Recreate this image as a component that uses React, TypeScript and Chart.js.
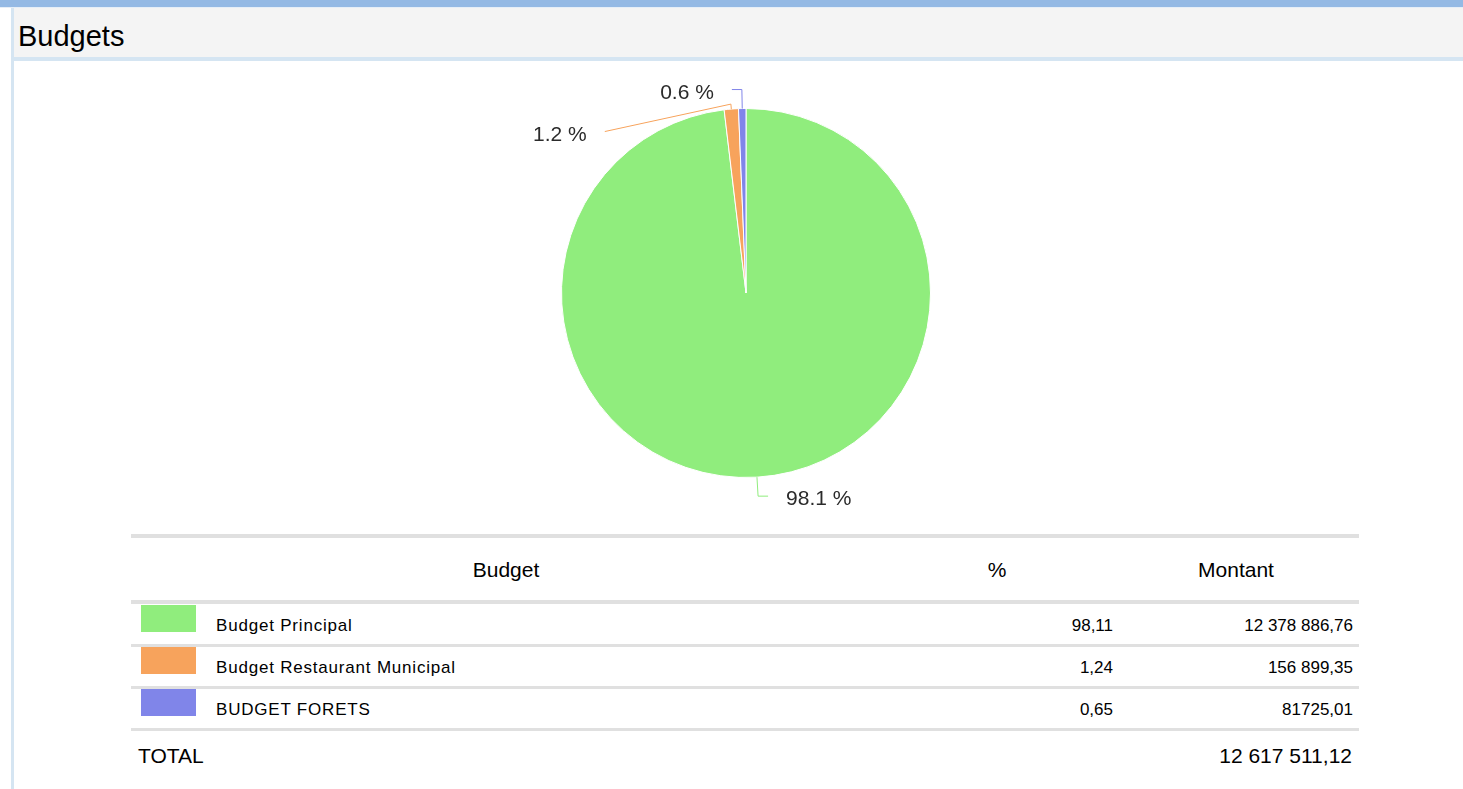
import React, { useEffect, useRef } from "react";
import { Chart, registerables } from "chart.js";

Chart.register(...registerables);

const categories = ["Budget Principal", "Budget Restaurant Municipal", "BUDGET FORETS"];
const amounts = [12378886.76, 156899.35, 81725.01];
const amountLabels = ["12 378 886,76", "156 899,35", "81725,01"];
const percentLabels = ["98,11", "1,24", "0,65"];
const totalLabel = "12 617 511,12";
const colors = ["#90ed7d", "#f7a35c", "#8085e9"];

const FONT = "'Liberation Sans', Arial, Helvetica, sans-serif";

const pieLabelPlugin = {
  id: "pieLabels",
  afterDatasetsDraw(chart: any) {
    const meta = chart.getDatasetMeta(0);
    const ctx = chart.ctx as CanvasRenderingContext2D;
    const data = chart.data.datasets[0].data as number[];
    const total = data.reduce((a, b) => a + b, 0);
    const BREAK = 19;
    const GAP = 42;
    const items = meta.data.map((arc: any, i: number) => {
      const { x, y, startAngle, endAngle, outerRadius } = arc;
      const a = (startAngle + endAngle) / 2;
      const left = Math.cos(a) < 0;
      const ny = y + (outerRadius + BREAK) * Math.sin(a);
      return { i, a, left, cx: x, cy: y, r: outerRadius, ny, ly: ny, shifted: false };
    });
    [true, false].forEach((side) => {
      const g = items.filter((it: any) => it.left === side).sort((p: any, q: any) => p.ny - q.ny);
      for (let k = 1; k < g.length; k++) {
        if (g[k].ly < g[k - 1].ly + GAP) {
          g[k].ly = g[k - 1].ly + GAP;
          g[k].shifted = true;
        }
      }
    });
    ctx.save();
    items.forEach((it: any) => {
      const { a, cx, cy, r, left } = it;
      const ex = cx + r * Math.cos(a);
      const ey = cy + r * Math.sin(a);
      let bx: number, by: number, ax: number, ay: number;
      if (!it.shifted) {
        bx = cx + (r + BREAK) * Math.cos(a);
        by = cy + (r + BREAK) * Math.sin(a);
        ax = bx + (left ? -10 : 10);
        ay = by;
      } else {
        bx = cx + (r + 5) * Math.cos(a);
        by = cy + (r + 5) * Math.sin(a);
        const dy = it.ly - cy;
        const rr = r + 30;
        ax = cx + (left ? -1 : 1) * Math.sqrt(Math.max(0, rr * rr - dy * dy));
        ay = it.ly;
      }
      ctx.strokeStyle = colors[it.i];
      ctx.lineWidth = 1;
      ctx.beginPath();
      ctx.moveTo(ax, ay);
      ctx.lineTo(bx, by);
      ctx.lineTo(ex, ey);
      ctx.stroke();
      const pct = ((data[it.i] / total) * 100).toFixed(1) + " %";
      ctx.fillStyle = "#2b2b2b";
      ctx.font = `21px ${FONT}`;
      ctx.textBaseline = "middle";
      ctx.textAlign = left ? "right" : "left";
      ctx.fillText(pct, ax + (left ? -18 : 18), ay + 3.5);
    });
    ctx.restore();
  },
};

function PieChart() {
  const ref = useRef<HTMLCanvasElement | null>(null);
  useEffect(() => {
    if (!ref.current) return;
    const chart = new Chart(ref.current, {
      type: "pie",
      data: {
        labels: categories,
        datasets: [
          {
            data: amounts,
            backgroundColor: colors,
            borderColor: "#ffffff",
            borderWidth: 1,
            hoverOffset: 0,
          },
        ],
      },
      options: {
        animation: false,
        responsive: false,
        layout: { padding: { top: 38, bottom: 42, left: 0, right: 0 } },
        plugins: { legend: { display: false }, tooltip: { enabled: false } },
      },
      plugins: [pieLabelPlugin],
    });
    return () => chart.destroy();
  }, []);
  return (
    <canvas
      ref={ref}
      width={1200}
      height={450}
      style={{ position: "absolute", left: 146, top: 70, width: 1200, height: 450 }}
    />
  );
}

const abs = (s: React.CSSProperties): React.CSSProperties => ({ position: "absolute", ...s });

export default function App() {
  const rowTops = [604, 646, 688];
  const lineTops = [644, 686, 728];
  return (
    <div
      style={{
        position: "absolute",
        left: 0,
        top: 0,
        width: 1463,
        height: 789,
        background: "#ffffff",
        overflow: "hidden",
        fontFamily: FONT,
        color: "#000",
      }}
    >
      <div style={abs({ left: 0, top: 0, width: 1463, height: 7, background: "#94b9e4" })} />
      <div style={abs({ left: 0, top: 7, width: 1463, height: 1, background: "#e6eef7" })} />
      <div style={abs({ left: 11, top: 8, width: 3, height: 781, background: "#d5e5f2" })} />
      <div style={abs({ left: 14, top: 8, width: 1449, height: 49, background: "#f4f4f4" })} />
      <div style={abs({ left: 14, top: 57, width: 1449, height: 4, background: "#d5e5f2" })} />
      <div style={abs({ left: 18, top: 16, height: 40, lineHeight: "40px", fontSize: 29 })}>Budgets</div>

      <PieChart />

      <div style={abs({ left: 131, top: 534, width: 1228, height: 4, background: "#e0e0e0" })} />
      <div style={abs({ left: 131, top: 550, width: 750, height: 40, lineHeight: "40px", fontSize: 21, textAlign: "center" })}>
        Budget
      </div>
      <div style={abs({ left: 881, top: 550, width: 232, height: 40, lineHeight: "40px", fontSize: 21, textAlign: "center" })}>
        %
      </div>
      <div style={abs({ left: 1113, top: 550, width: 246, height: 40, lineHeight: "40px", fontSize: 21, textAlign: "center" })}>
        Montant
      </div>
      <div style={abs({ left: 131, top: 600, width: 1228, height: 4, background: "#e0e0e0" })} />

      {categories.map((c, i) => (
        <React.Fragment key={c}>
          <div style={abs({ left: 141, top: rowTops[i] + 1, width: 55, height: 27, background: colors[i] })} />
          <div style={abs({ left: 216, top: rowTops[i] + 7, height: 30, lineHeight: "30px", fontSize: 17, whiteSpace: "nowrap", letterSpacing: 0.8 })}>
            {c}
          </div>
          <div style={abs({ left: 913, top: rowTops[i] + 7, width: 200, height: 30, lineHeight: "30px", fontSize: 17, textAlign: "right" })}>
            {percentLabels[i]}
          </div>
          <div style={abs({ left: 1053, top: rowTops[i] + 7, width: 300, height: 30, lineHeight: "30px", fontSize: 17, textAlign: "right" })}>
            {amountLabels[i]}
          </div>
          <div style={abs({ left: 131, top: lineTops[i], width: 1228, height: 3, background: "#e0e0e0" })} />
        </React.Fragment>
      ))}

      <div style={abs({ left: 138, top: 738, height: 36, lineHeight: "36px", fontSize: 21 })}>TOTAL</div>
      <div style={abs({ left: 1052, top: 738, width: 300, height: 36, lineHeight: "36px", fontSize: 21, textAlign: "right" })}>
        {totalLabel}
      </div>
    </div>
  );
}
